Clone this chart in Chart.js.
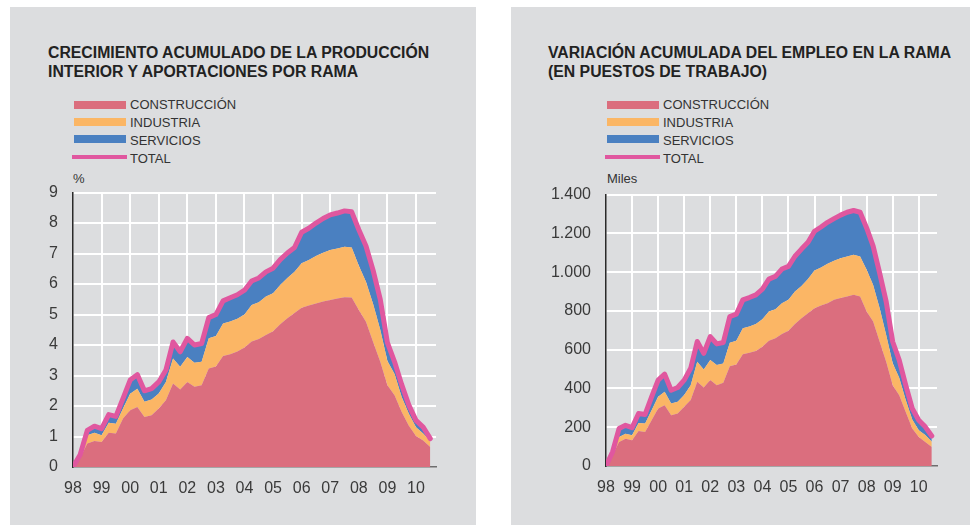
<!DOCTYPE html>
<html>
<head>
<meta charset="utf-8">
<script src="https://cdn.jsdelivr.net/npm/chart.js@4.4.1/dist/chart.umd.min.js"></script>
<style>
    body { margin: 0; width: 973px; height: 525px; position: relative; overflow: hidden; background: #fff;
           font-family: "Liberation Sans", Arial, sans-serif; color: #333; }
    .panel { position: absolute; top: 7px; height: 518px; background: #dcdddf; }
    .title { position: absolute; top: 43px; font-weight: bold; font-size: 15.8px; line-height: 19px; color: #222; white-space: nowrap; }
    .sw { position: absolute; width: 52px; height: 8px; }
    .lab { position: absolute; font-size: 13px; line-height: 13px; white-space: nowrap; }
    .unit { position: absolute; top: 172px; font-size: 13px; line-height: 13px; }
    canvas { position: absolute; }
</style>
</head>
<body>

<div class="panel" style="left:10px;width:466px"></div>
<div class="panel" style="left:511px;width:459px"></div>

<div class="title" style="left:48px">CRECIMIENTO ACUMULADO DE LA PRODUCCIÓN<br>INTERIOR Y APORTACIONES POR RAMA</div>
<div class="title" style="left:548px">VARIACIÓN ACUMULADA DEL EMPLEO EN LA RAMA<br>(EN PUESTOS DE TRABAJO)</div>

<div id="legendLeft"></div>
<div id="legendRight"></div>

<div class="unit" style="left:73px">%</div>
<div class="unit" style="left:607px">Miles</div>

<canvas id="prodChart" width="410" height="332" style="left:30px;top:168px"></canvas>
<canvas id="empChart" width="401" height="330" style="left:540px;top:170px"></canvas>

<script>
// ===========================
// DATA (quarterly, 98 T1 .. 10 T3)
// ===========================
const years = ['98', '99', '00', '01', '02', '03', '04', '05', '06', '07', '08', '09', '10'];
const seriesNames = ['CONSTRUCCIÓN', 'INDUSTRIA', 'SERVICIOS', 'TOTAL'];
const colors = ['#db6e7e', '#fbb665', '#4a80c1', '#e0579f'];

// producción interior, % acumulado (aportaciones)
const prodConstruccion = [0, 0.3, 0.77, 0.85, 0.82, 1.12, 1.1, 1.59, 1.86, 1.97, 1.64, 1.7, 1.92, 2.19, 2.74, 2.54, 2.79,
    2.63, 2.68, 3.23, 3.3, 3.64, 3.7, 3.79, 3.92, 4.12, 4.2, 4.33, 4.45, 4.68, 4.88, 5.05, 5.22, 5.3, 5.36, 5.43,
    5.48, 5.53, 5.57, 5.56, 5.15, 4.76, 4.1, 3.45, 2.68, 2.35, 1.8, 1.35, 1.02, 0.87, 0.66];
const prodIndustria = [0, 0.05, 0.27, 0.27, 0.22, 0.33, 0.32, 0.33, 0.54, 0.6, 0.5, 0.51, 0.49, 0.6, 0.82, 0.75, 0.82,
    0.79, 0.77, 0.99, 1.0, 1.07, 1.07, 1.07, 1.08, 1.19, 1.2, 1.26, 1.25, 1.29, 1.32, 1.35, 1.46, 1.49, 1.56, 1.6,
    1.64, 1.64, 1.65, 1.64, 1.45, 1.32, 1.25, 1.05, 0.8, 0.7, 0.5, 0.4, 0.28, 0.23, 0.19];
const prodServicios = [0, 0.05, 0.16, 0.22, 0.22, 0.27, 0.24, 0.33, 0.45, 0.46, 0.36, 0.36, 0.38, 0.39, 0.54, 0.49, 0.61,
    0.58, 0.6, 0.68, 0.7, 0.74, 0.78, 0.79, 0.8, 0.79, 0.8, 0.81, 0.82, 0.83, 0.82, 0.8, 1.02, 1.04, 1.08, 1.12,
    1.15, 1.16, 1.18, 1.17, 1.18, 1.17, 1.1, 1.0, 0.6, 0.4, 0.4, 0.28, 0.23, 0.21, 0.08];
const prodTotal = [0, 0.4, 1.2, 1.34, 1.26, 1.72, 1.66, 2.25, 2.85, 3.03, 2.5, 2.57, 2.79, 3.18, 4.1, 3.78, 4.22,
    4.0, 4.05, 4.9, 5.0, 5.45, 5.55, 5.65, 5.8, 6.1, 6.2, 6.4, 6.52, 6.8, 7.02, 7.2, 7.7, 7.83, 8.0, 8.15,
    8.27, 8.33, 8.4, 8.37, 7.78, 7.25, 6.45, 5.5, 4.08, 3.45, 2.7, 2.03, 1.53, 1.31, 0.93];

// empleo, miles de puestos de trabajo
const empConstruccion = [0, 55, 124, 141, 133, 181, 176, 236, 297, 314, 262, 271, 305, 340, 435, 405, 443,
    417, 429, 515, 524, 576, 584, 593, 615, 646, 659, 681, 698, 733, 762, 788, 814, 828, 840, 857,
    866, 874, 883, 874, 797, 745, 641, 538, 417, 365, 279, 193, 150, 124, 98];
const empIndustria = [0, 7, 26, 26, 25, 41, 43, 52, 60, 69, 61, 60, 61, 77, 103, 93, 104,
    104, 100, 121, 122, 134, 135, 140, 142, 151, 150, 159, 159, 167, 167, 176, 195, 196, 203, 202,
    206, 207, 207, 207, 215, 189, 173, 138, 113, 90, 61, 47, 35, 36, 27];
const empServicios = [0, 10, 43, 43, 40, 49, 47, 69, 86, 91, 68, 74, 77, 87, 104, 83, 120,
    109, 108, 135, 137, 147, 150, 150, 155, 167, 169, 176, 173, 182, 190, 190, 202, 209, 214, 217,
    222, 228, 228, 228, 216, 200, 181, 172, 111, 91, 77, 57, 51, 42, 30];
const empTotal = [0, 72, 193, 210, 198, 271, 266, 357, 443, 474, 391, 405, 443, 504, 642, 581, 667,
    630, 637, 771, 783, 857, 869, 883, 912, 964, 978, 1016, 1030, 1082, 1119, 1154, 1211, 1233, 1257, 1276,
    1294, 1309, 1318, 1309, 1228, 1134, 995, 848, 641, 546, 417, 297, 236, 202, 155];

// ===========================
// Legends (html)
// ===========================
function buildLegend(el, left) {
    const swTops = [100.5, 117.5, 135];
    const textTops = [97.5, 115.5, 133.5, 151.5];
    let html = '';
    seriesNames.forEach((name, i) => {
        if (i < 3) {
            html += `<div class="sw" style="left:${left}px;top:${swTops[i]}px;background:${colors[i]}"></div>`;
        } else {
            html += `<div class="sw" style="left:${left - 2}px;top:154.5px;height:4.5px;width:55px;background:${colors[i]}"></div>`;
        }
        html += `<div class="lab" style="left:${left + 56}px;top:${textTops[i]}px">${name}</div>`;
    });
    el.innerHTML = html;
}
buildLegend(document.getElementById('legendLeft'), 74);
buildLegend(document.getElementById('legendRight'), 607);

// ===========================
// Charts
// ===========================
const tickFont = { family: '"Liberation Sans", Arial, sans-serif', size: 16 };
const gridColor = ctx => (ctx.tick && ctx.tick.value === 0) ? 'rgba(0,0,0,0)' : '#ffffff';

function makeChart(id, con, ind, serv, total, cfg) {
    const quarters = total.map((_, i) => i);
    return new Chart(document.getElementById(id), {
        type: 'line',
        data: {
            labels: quarters,
            datasets: [
                // stacked areas first (same order -> stacked by index), total line drawn on top
                { label: seriesNames[0], data: con, stack: 'ramas', fill: 'origin', order: 1,
                  backgroundColor: colors[0], borderColor: colors[0], borderWidth: 0 },
                { label: seriesNames[1], data: ind, stack: 'ramas', fill: '-1', order: 1,
                  backgroundColor: colors[1], borderColor: colors[1], borderWidth: 0 },
                { label: seriesNames[2], data: serv, stack: 'ramas', fill: '-1', order: 1,
                  backgroundColor: colors[2], borderColor: colors[2], borderWidth: 0 },
                { label: seriesNames[3], data: total, stack: 'total', fill: false, order: 0,
                  borderColor: colors[3], borderWidth: 5, borderJoinStyle: 'round', borderCapStyle: 'round' }
            ]
        },
        options: {
            responsive: false,
            animation: false,
            devicePixelRatio: 1,
            layout: { padding: { top: 0, right: 4, left: 0, bottom: 0 } },
            elements: { point: { radius: 0 }, line: { tension: 0 } },
            plugins: { legend: { display: false }, tooltip: { enabled: false } },
            scales: {
                x: {
                    type: 'linear',
                    min: 0,
                    max: cfg.xMax,
                    grid: { color: gridColor, lineWidth: 2, drawTicks: false },
                    border: { color: '#6e6e6e', width: 1.5 },
                    ticks: {
                        stepSize: 4, includeBounds: false, autoSkip: false, maxRotation: 0,
                        padding: 12, color: '#3a3a3a', font: tickFont,
                        callback: v => (v % 4 === 0 ? years[v / 4] : '')
                    },
                    afterFit: s => { s.height = cfg.xHeight; }
                },
                y: {
                    stacked: true,
                    min: 0,
                    max: cfg.yMax,
                    grid: { color: gridColor, lineWidth: 2, drawTicks: false },
                    border: { color: '#2a2a2a', width: 1.5 },
                    ticks: { stepSize: cfg.yStep, padding: 15, color: '#3a3a3a', font: tickFont, callback: cfg.fmt },
                    afterFit: s => { s.width = cfg.yWidth; }
                }
            }
        }
    });
}

makeChart('prodChart', prodConstruccion, prodIndustria, prodServicios, prodTotal, {
    xHeight: 33, yWidth: 43, xMax: 50.8, yMax: 9, yStep: 1,
    fmt: v => String(v)
});

makeChart('empChart', empConstruccion, empIndustria, empServicios, empTotal, {
    xHeight: 34, yWidth: 66, xMax: 50.8, yMax: 1400, yStep: 200,
    fmt: v => String(v).replace(/\B(?=(\d{3})+(?!\d))/g, '.')
});
</script>
</body>
</html>
